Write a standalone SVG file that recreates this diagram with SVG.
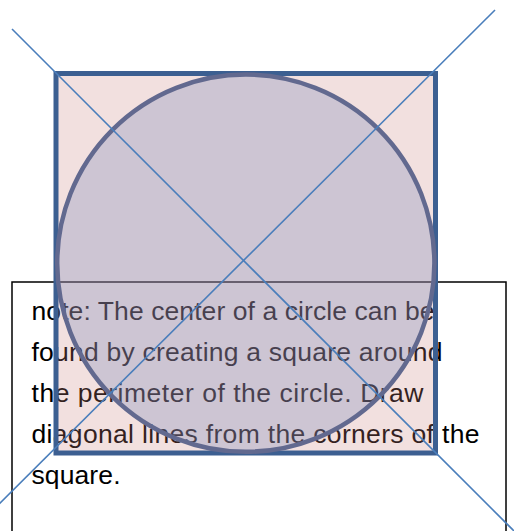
<svg xmlns="http://www.w3.org/2000/svg" width="514" height="531" viewBox="0 0 514 531">
<style>
.note-box{fill:#ffffff;stroke:#000000;stroke-width:1.5}
.note-text{font-family:"Liberation Sans",Arial,sans-serif;font-size:26.5px;fill:#000000}
.sq{fill:rgb(205,130,128);fill-opacity:0.25;stroke:#3c5f91;stroke-width:5}
.circ{fill:rgb(119,135,184);fill-opacity:0.3;stroke:#62698f;stroke-width:4.5}
.diag{stroke:#4a7ebb;stroke-width:1.6;fill:none}
</style>
<rect width="514" height="531" fill="#ffffff"/>
<g id="note">
<rect class="note-box" x="12" y="282" width="494" height="270"/>
<text class="note-text">
<tspan x="31.5" y="320" textLength="403">note: The center of a circle can be</tspan>
<tspan x="31.5" y="361" textLength="411">found by creating a square around</tspan>
<tspan x="31.5" y="402" textLength="392">the perimeter of the circle. Draw</tspan>
<tspan x="31.5" y="443" textLength="448">diagonal lines from the corners of the</tspan>
<tspan x="31.5" y="484" textLength="89">square.</tspan>
</text>
</g>
<g id="square">
<rect class="sq" x="56" y="73.5" width="379.5" height="379.5"/>
</g>
<g id="circle">
<circle class="circ" cx="245.8" cy="263.2" r="188.6"/>
</g>
<g id="connectors">
<line class="diag" x1="12" y1="29" x2="520" y2="537"/>
<line class="diag" x1="495" y1="10" x2="-5" y2="508"/>
</g>
</svg>
